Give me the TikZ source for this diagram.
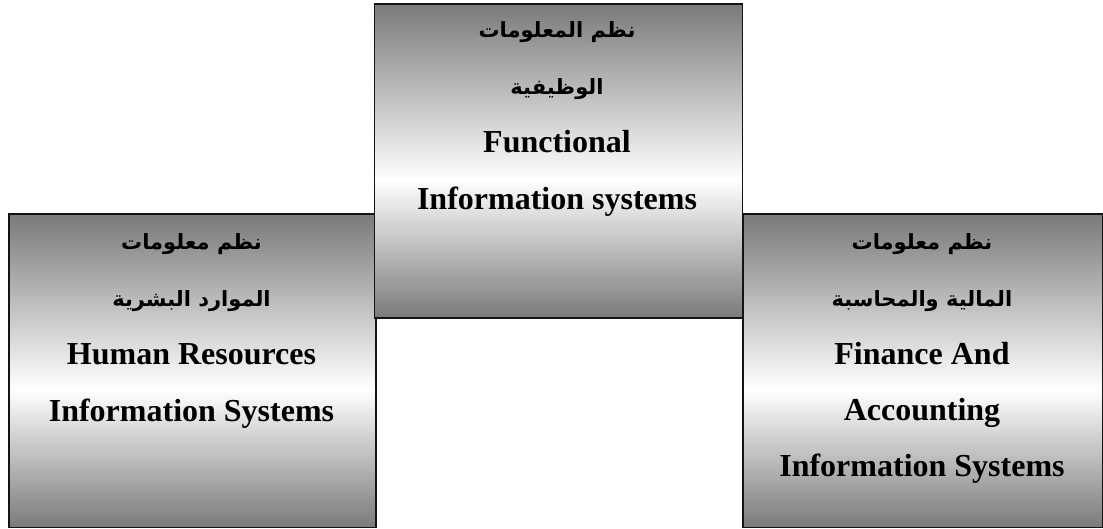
\documentclass[tikz,border=0pt]{standalone}
\usepackage{fontspec}
\setmainfont{Liberation Serif}
\newfontfamily\arabicfont[Script=Arabic]{DejaVu Sans}
\TeXXeTstate=1
\definecolor{boxgray}{RGB}{122,122,122}
\definecolor{boxline}{RGB}{20,20,20}
\pgfdeclareverticalshading{boxshade}{100bp}{color(0bp)=(boxgray); color(25bp)=(boxgray); color(47bp)=(white); color(75bp)=(boxgray); color(100bp)=(boxgray)}
\tikzset{
  sysbox/.style={draw=boxline, line width=1.6pt, shading=boxshade, inner sep=0pt, anchor=north west},
  entxt/.style={anchor=base, inner sep=0pt, font=\fontsize{32}{38}\selectfont\bfseries},
  artxt/.style={anchor=base, inner sep=0pt, font=\fontsize{21}{26}\selectfont\bfseries\arabicfont}
}
\begin{document}
\begin{tikzpicture}[x=1pt,y=-1pt]
\useasboundingbox (0,0) rectangle (1103,528);
% boxes
\node[sysbox, minimum width=367pt, minimum height=313.5pt] (hrbox) at (8,213) {};
\node[sysbox, minimum width=360pt, minimum height=313.5pt] (fbox) at (742,213) {};
\node[sysbox, minimum width=368pt, minimum height=314pt] (mbox) at (373.5,3) {};
% left box text
\node[artxt] (l1) at (191.5,249) {\beginR نظم معلومات\endR};
\node[artxt] (l2) at (191.5,306) {\beginR الموارد البشرية\endR};
\node[entxt] (l3) at (191.5,364) {Human Resources};
\node[entxt] (l4) at (191.5,421) {Information Systems};
% middle box text
\node[artxt] (m1) at (557,37) {\beginR نظم المعلومات\endR};
\node[artxt] (m2) at (557,94) {\beginR الوظيفية\endR};
\node[entxt] (m3) at (557,152) {Functional};
\node[entxt] (m4) at (557,209) {Information systems};
% right box text
\node[artxt] (r1) at (922,249) {\beginR نظم معلومات\endR};
\node[artxt] (r2) at (922,306) {\beginR المالية والمحاسبة\endR};
\node[entxt] (r3) at (922,364) {Finance And};
\node[entxt] (r4) at (922,420) {Accounting};
\node[entxt] (r5) at (922,476) {Information Systems};
\end{tikzpicture}
\end{document}
